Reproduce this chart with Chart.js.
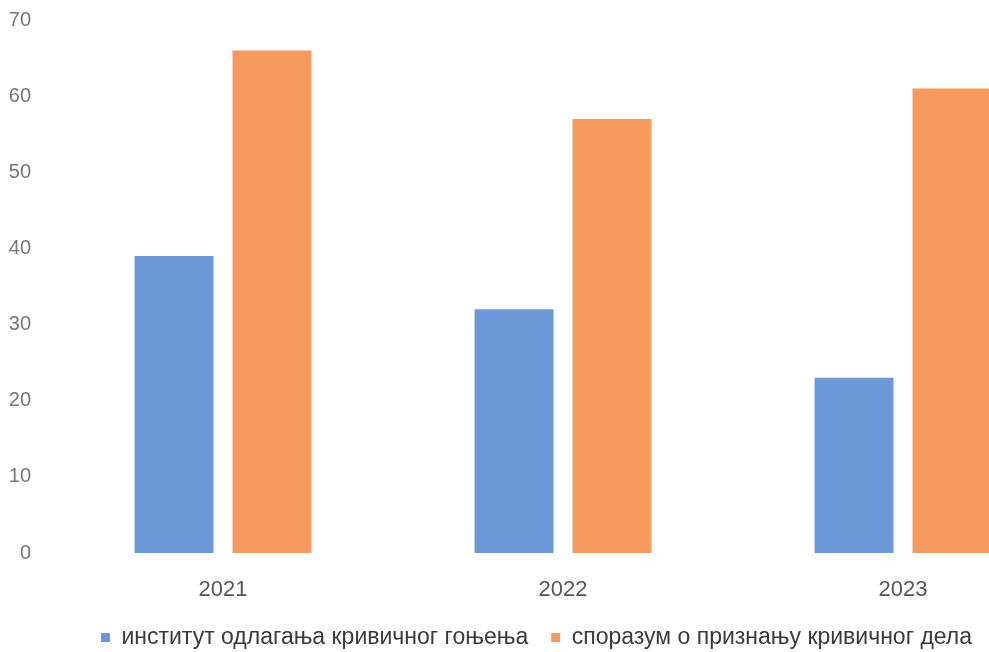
<!DOCTYPE html>
<html>
<head>
<meta charset="utf-8">
<script src="https://cdn.jsdelivr.net/npm/chart.js@4.4.1/dist/chart.umd.min.js"></script>
<style>
  html, body { margin: 0; padding: 0; background: #fff; overflow: hidden; }
  .wrap { width: 989px; height: 652px; overflow: hidden; position: relative; }
  .inner { width: 1100px; height: 652px; }
</style>
</head>
<body>
<div class="wrap"><div class="inner"><canvas id="c" width="1100" height="652"></canvas></div></div>
<script>
const years = ['2021', '2022', '2023'];
const deferral = [39, 32, 23];
const pleaDeal = [66, 57, 61];
const yTicks = [0, 10, 20, 30, 40, 50, 60, 70];

const FONT = "'Liberation Sans', Arial, sans-serif";

new Chart(document.getElementById('c').getContext('2d'), {
  type: 'bar',
  data: {
    labels: years,
    datasets: [
      {
        label: 'институт одлагања кривичног гоњења',
        data: deferral,
        backgroundColor: '#6a98d8',
        categoryPercentage: 0.576,
        barPercentage: 0.806
      },
      {
        label: 'споразум о признању кривичног дела',
        data: pleaDeal,
        backgroundColor: '#f69a60',
        categoryPercentage: 0.576,
        barPercentage: 0.806
      }
    ]
  },
  options: {
    responsive: false,
    animation: false,
    layout: { padding: { top: 20, left: 0, right: 27, bottom: 0 } },
    plugins: {
      tooltip: { enabled: false },
      legend: {
        position: 'bottom',
        maxHeight: 49,
        labels: {
          boxWidth: 9,
          boxHeight: 9,
          padding: 23,
          color: '#3a3a3a',
          font: { size: 23, family: FONT }
        }
      }
    },
    scales: {
      x: {
        grid: { display: false, drawTicks: false },
        border: { display: false },
        ticks: { padding: 24, color: '#555', font: { size: 22, family: FONT } },
        afterFit: s => { s.height = 50; }
      },
      y: {
        min: 0,
        max: 70,
        afterBuildTicks: s => { s.ticks = yTicks.map(v => ({ value: v })); },
        // invisible tick marks only push the labels left, without adding top padding
        grid: { display: false, drawTicks: true, tickLength: 22, color: 'rgba(0,0,0,0)' },
        border: { display: false },
        ticks: { padding: 0, color: '#777', font: { size: 20, family: FONT } },
        afterFit: s => { s.width = 53; }
      }
    }
  }
});
</script>
</body>
</html>
